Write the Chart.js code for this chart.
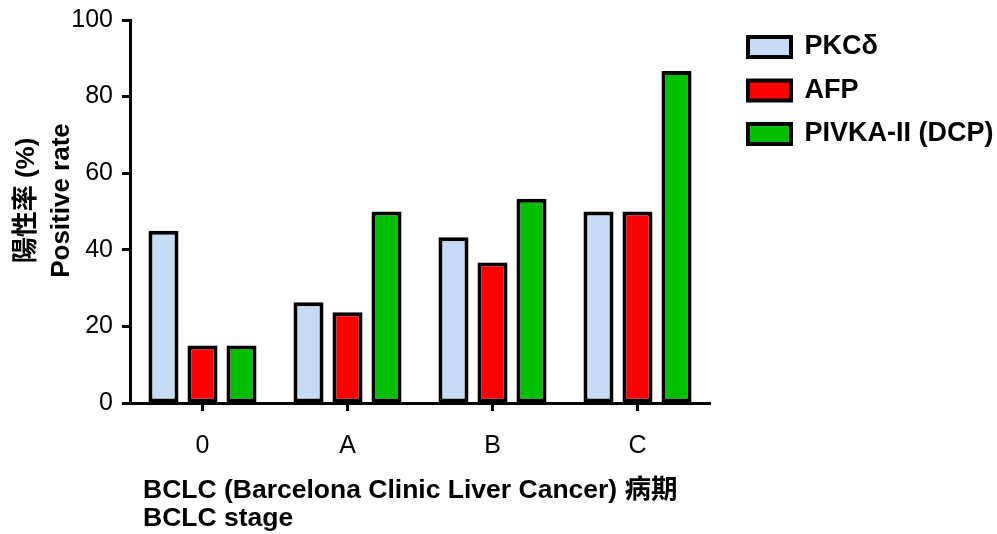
<!DOCTYPE html>
<html>
<head>
<meta charset="utf-8">
<script src="https://cdn.jsdelivr.net/npm/chart.js@4.4.1/dist/chart.umd.min.js"></script>
<style>
  html, body { margin: 0; padding: 0; background: #ffffff; }
  #wrap { width: 997px; height: 534px; }
</style>
</head>
<body>
<div id="wrap"><canvas id="c" width="997" height="534"></canvas></div>
<script>
// ---- data ----
const categories = ["0", "A", "B", "C"];
const seriesNames = ["PKCδ", "AFP", "PIVKA-II (DCP)"];
const pkcDelta = [45.0, 26.3, 43.3, 50.0];
const afp = [15.0, 23.7, 36.7, 50.0];
const pivka = [15.0, 50.0, 53.3, 86.7];
const yTicks = [0, 20, 40, 60, 80, 100];
const yTitle = ["陽性率 (%)", "Positive rate"];
const xTitle = ["BCLC (Barcelona Clinic Liver Cancer) 病期", "BCLC stage"];

const FONT = "'Liberation Sans', Arial, 'Noto Sans CJK TC', sans-serif";
const colors = ["#C6DBF5", "#FF0000", "#00BE00"];
const values = [pkcDelta, afp, pivka];

// legend placement tweak: fixed legend column width, items nudged inside it
const LEG_WIDTH = 287, LEG_SHIFT_X = 21.5, LEG_SHIFT_Y = 17;
const legendOffset = {
  id: 'legendOffset',
  afterInit(chart) {
    const lg = chart.legend;
    const fit = lg.fit;
    lg.fit = function () { fit.call(this); this.width = LEG_WIDTH; };
    const draw = lg.draw;
    lg.draw = function () {
      this.left += LEG_SHIFT_X; this.top += LEG_SHIFT_Y;
      draw.apply(this, arguments);
      this.left -= LEG_SHIFT_X; this.top -= LEG_SHIFT_Y;
    };
  }
};

function patchTitle(scale, dx, dy) {
  if (scale._titlePatched) return;
  const orig = scale.drawTitle;
  scale.drawTitle = function () {
    this.ctx.save();
    this.ctx.translate(dx, dy);
    orig.apply(this, arguments);
    this.ctx.restore();
  };
  scale._titlePatched = true;
}

new Chart(document.getElementById('c'), {
  type: 'bar',
  data: {
    labels: categories,
    datasets: seriesNames.map((n, i) => ({
      label: n,
      data: values[i],
      backgroundColor: colors[i],
      borderColor: '#000000',
      borderWidth: 4,
      borderSkipped: false,
      categoryPercentage: 0.807,
      barPercentage: 0.77
    }))
  },
  options: {
    responsive: false,
    animation: false,
    devicePixelRatio: 1,
    layout: { padding: { left: 0, right: 0, top: 0, bottom: 0 } },
    plugins: {
      tooltip: { enabled: false },
      legend: {
        position: 'right',
        align: 'start',
        labels: {
          boxWidth: 43,
          boxHeight: 20,
          padding: 16.5,
          color: '#000000',
          font: { family: FONT, size: 27, weight: 'bold' }
        }
      }
    },
    scales: {
      x: {
        offset: true,
        grid: {
          display: true,
          offset: false,
          drawOnChartArea: false,
          drawTicks: true,
          tickLength: 8,
          tickWidth: 3,
          tickColor: '#000000'
        },
        border: { display: true, color: '#000000', width: 3 },
        ticks: {
          color: '#000000',
          padding: 20,
          font: { family: FONT, size: 25 }
        },
        title: {
          display: true,
          text: xTitle,
          align: 'start',
          color: '#000000',
          font: { family: FONT, size: 26.5, weight: 'bold', lineHeight: 1.057 },
          padding: { top: 3, bottom: 1 }
        },
        afterFit(scale) { scale.height = 131; patchTitle(scale, 13, 0); }
      },
      y: {
        min: 0,
        max: 100,
        afterBuildTicks(scale) { scale.ticks = yTicks.map(v => ({ value: v })); },
        grid: {
          display: true,
          drawOnChartArea: false,
          drawTicks: true,
          tickLength: 8,
          tickWidth: 3,
          tickColor: '#000000'
        },
        border: { display: true, color: '#000000', width: 3 },
        ticks: {
          color: '#000000',
          padding: 9,
          font: { family: FONT, size: 25 }
        },
        title: {
          display: true,
          text: yTitle,
          color: '#000000',
          font: { family: FONT, size: 26, weight: 'bold', lineHeight: 1.35 },
          padding: { top: 9, bottom: 0 }
        },
        afterFit(scale) {
          scale.width = 130;
          scale.paddingTop = 20;
          scale.paddingBottom = 0;
          patchTitle(scale, 0, -11);
        }
      }
    }
  },
  plugins: [legendOffset]
});
</script>
</body>
</html>
